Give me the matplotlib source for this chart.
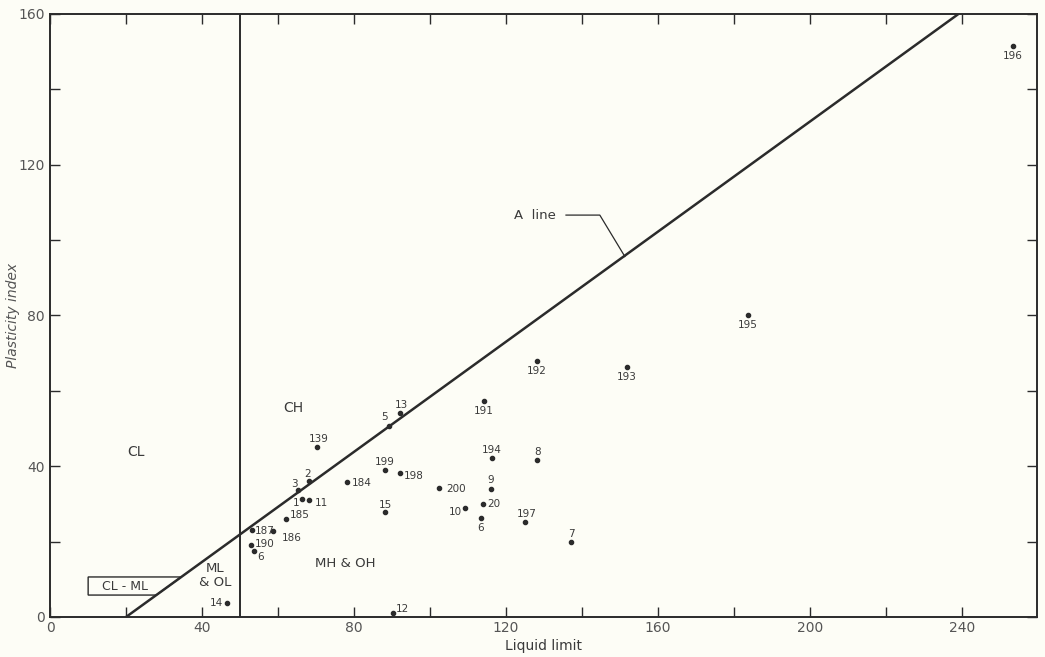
import matplotlib
matplotlib.use("Agg")
import matplotlib.pyplot as plt
from matplotlib.patches import Polygon

# ---- data ----
sample_ids = ["196", "195", "192", "193", "191", "13", "5", "139", "2", "3", "1", "11",
              "184", "199", "198", "200", "15", "10", "185", "187", "186", "190", "6a",
              "12", "14", "194", "8", "9", "20", "6b", "197", "7"]
liquid_limit = [253.4, 183.7, 128.2, 151.8, 114.2, 92.1, 89.2, 70.3, 68.2, 65.3, 66.4, 68.2,
                78.2, 88.2, 92.1, 102.4, 88.2, 109.2, 62.1, 53.2, 58.7, 52.9, 53.7,
                90.3, 46.6, 116.3, 128.2, 116.1, 114.0, 113.4, 125.0, 137.1]
plasticity_index = [151.5, 80.1, 67.9, 66.3, 57.3, 54.1, 50.7, 45.1, 36.1, 33.7, 31.3, 31.0,
                    35.8, 39.0, 38.2, 34.2, 27.9, 28.9, 26.0, 23.1, 22.8, 19.1, 17.5,
                    1.1, 3.7, 42.2, 41.6, 34.0, 30.0, 26.3, 25.2, 19.9]

x_ticks = [0, 20, 40, 60, 80, 100, 120, 140, 160, 180, 200, 220, 240]
y_ticks = [0, 20, 40, 60, 80, 100, 120, 140, 160]
a_line_ll = [20, 20 + 160 / 0.73]
a_line_pi = [0, 160]
ll_boundary = 50

# ---- label offsets (points) per sample ----
offsets = {
    "196": (0, -7, "center"), "195": (0, -7, "center"), "192": (0, -7, "center"),
    "193": (0, -7, "center"), "191": (0, -7, "center"), "13": (1, 6, "center"),
    "5": (-3, 6, "center"), "139": (1, 6, "center"), "2": (-1, 5, "center"),
    "3": (-3, 4, "center"), "1": (-2, -3, "right"), "11": (4, -2, "left"),
    "184": (3, -1, "left"), "199": (0, 6, "center"), "198": (3, -2, "left"),
    "200": (5, -1, "left"), "15": (0, 5, "center"), "10": (-2, -3, "right"),
    "185": (3, 3, "left"), "187": (2, -1, "left"), "186": (6, -5, "left"),
    "190": (3, 1, "left"), "6a": (2, -4, "left"), "12": (2, 3, "left"),
    "14": (-3, 0, "right"), "194": (0, 6, "center"), "8": (0, 6, "center"),
    "9": (0, 6, "center"), "20": (3, 0, "left"), "6b": (0, -7, "center"),
    "197": (1, 6, "center"), "7": (0, 6, "center"),
}

ink = "#2b2b2b"
txt = "#3a3a3a"
bg = "#fdfdf6"

plt.rcParams['font.family'] = ['DejaVu Sans']
fig = plt.figure(figsize=(10.45, 6.57), dpi=100, facecolor=bg)
ax = fig.add_axes([0.048, 0.061, 0.944, 0.918], facecolor=bg)

ax.set_xlim(0, 259.7)
ax.set_ylim(0, 160)

for s in ax.spines.values():
    s.set_color(ink)
    s.set_linewidth(1.4)

ax.set_xticks(x_ticks)
ax.set_xticklabels([str(v) if v % 40 == 0 else "" for v in x_ticks])
ax.set_yticks(y_ticks)
ax.set_yticklabels([str(v) if v % 40 == 0 else "" for v in y_ticks])
ax.tick_params(direction="in", length=7, width=1.0, color=ink, labelcolor="#555555",
               labelsize=10, top=True, right=True, pad=3)
ax.tick_params(axis="y", pad=4)

ax.set_xlabel("Liquid limit", fontsize=10, color=txt, labelpad=3)
ax.set_ylabel("Plasticity index", fontsize=10, color="#555555", style="italic")
ax.yaxis.set_label_coords(-0.031, 0.5)

# A line and LL=50 line
ax.plot(a_line_ll, a_line_pi, color=ink, lw=1.8, solid_capstyle="butt")
ax.plot([ll_boundary, ll_boundary], [0, 160], color=ink, lw=1.4)

# CL-ML box bounded by the A line
y_lo, y_hi = 5.8, 10.6
box = Polygon([(10, y_lo), (20 + y_lo / 0.73, y_lo), (20 + y_hi / 0.73, y_hi), (10, y_hi)],
              closed=True, fill=False, edgecolor=ink, lw=1.0)
ax.add_patch(box)
ax.text(19.7, 8.2, "CL - ML", fontsize=9, color=txt, ha="center", va="center")

# A line label with leader
ax.text(122.1, 106.6, "A  line", fontsize=9.5, color=txt, ha="left", va="center")
ax.plot([135.8, 144.7, 151.3], [106.6, 106.6, 95.6], color=ink, lw=0.9)

# region labels
ax.text(22.6, 43.8, "CL", fontsize=10, color=txt, ha="center", va="center")
ax.text(63.9, 55.4, "CH", fontsize=10, color=txt, ha="center", va="center")
ax.text(77.6, 14.1, "MH & OH", fontsize=9.5, color=txt, ha="center", va="center")
ax.text(43.5, 11.0, "ML\n& OL", fontsize=9.5, color=txt, ha="center", va="center",
        linespacing=1.1)

# points
ax.scatter(liquid_limit, plasticity_index, s=9, color=ink, zorder=3)
for sid, x, y in zip(sample_ids, liquid_limit, plasticity_index):
    dx, dy, ha = offsets[sid]
    label = sid.rstrip("ab")
    ax.annotate(label, (x, y), xytext=(dx, dy), textcoords="offset points",
                fontsize=7.5, color=txt, ha=ha, va="center")

fig.savefig("out.png", dpi=100, facecolor=bg)
